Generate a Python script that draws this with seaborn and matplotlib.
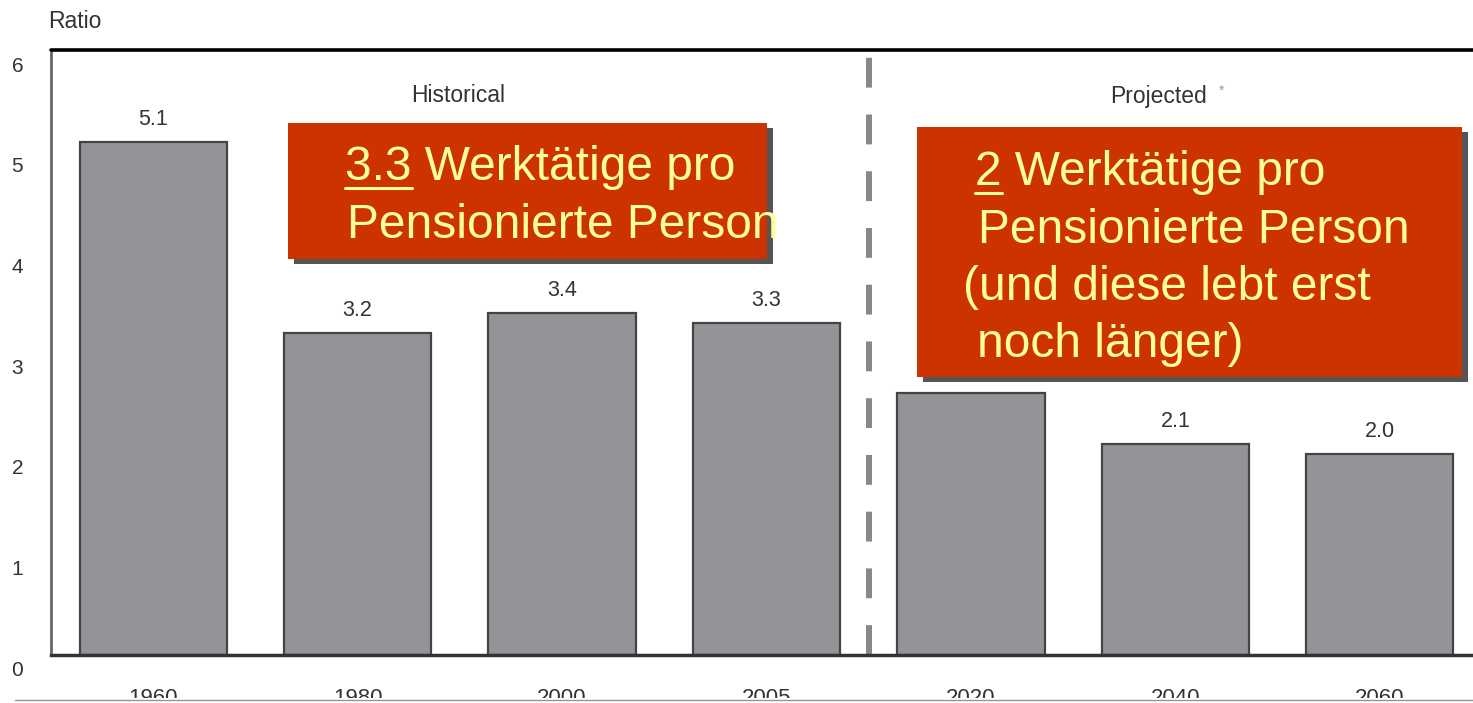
import matplotlib
matplotlib.use("Agg")
import matplotlib.pyplot as plt
import matplotlib.patches as mpatches
import matplotlib.lines as mlines
import matplotlib.transforms as mtransforms
import seaborn as sns
import pandas as pd

# ==========================================
# Data
# ==========================================

years = ["1960", "1980", "2000", "2005", "2020", "2040", "2060"]
ratios = [5.1, 3.2, 3.4, 3.3, 2.6, 2.1, 2.0]
value_labels = ["5.1", "3.2", "3.4", "3.3", "2.6", "2.1", "2.0"]
y_ticks = [0, 1, 2, 3, 4, 5, 6]

box1_lines = ["3.3 Werktätige pro", "Pensionierte Person"]
box2_lines = ["2 Werktätige pro", "Pensionierte Person",
              "(und diese lebt erst", "noch länger)"]

df = pd.DataFrame({"year": years, "ratio": ratios})

# ==========================================
# Figure setup
# ==========================================

W, H = 1473, 703
sns.set_style("white")
plt.rcParams["font.family"] = ["Liberation Sans", "DejaVu Sans"]

fig = plt.figure(figsize=(W / 100, H / 100), dpi=100)


def fx(px):
    return px / W


def fy(py):
    return 1 - py / H


ax = fig.add_axes([fx(51), fy(655), fx(1482) - fx(51), fy(51) - fy(655)])

sns.barplot(data=df, x="year", y="ratio", color="#939498", width=0.72,
            edgecolor="#444444", linewidth=1.6, saturation=1, ax=ax)

ax.set_xlim(-0.5, 6.5)
ax.set_ylim(0, 6)
ax.set_xlabel("")
ax.set_ylabel("")

# value labels above bars
for i, (v, lab) in enumerate(zip(ratios, value_labels)):
    ax.text(i, v + 0.12, lab, ha="center", va="bottom", fontsize=15.5,
            color="#333333")

# spines
for s in ["top", "right"]:
    ax.spines[s].set_visible(False)
ax.spines["left"].set_color("#666666")
ax.spines["left"].set_linewidth(2)
ax.spines["bottom"].set_color("#333333")
ax.spines["bottom"].set_linewidth(2.5)

# thick top rule
fig.add_artist(mlines.Line2D([fx(51), 1], [fy(50), fy(50)], color="black",
                             linewidth=2.6))

# y ticks inside, labels shifted a little down
ax.set_yticks(y_ticks)
ax.tick_params(axis="y", direction="in", length=16, width=3, color="#808080",
               labelsize=15, labelcolor="#333333", pad=20)
offset = mtransforms.ScaledTranslation(0, -4 / 72, fig.dpi_scale_trans)
for lab in ax.get_yticklabels():
    lab.set_verticalalignment("top")
    lab.set_transform(lab.get_transform() + offset)

ax.tick_params(axis="x", length=0, labelsize=16, labelcolor="#333333", pad=24)
for lab in ax.get_xticklabels():
    lab.set_verticalalignment("top")

# Historical / Projected divider
ax.axvline(3.5, color="#888888", linewidth=4.3, linestyle=(0, (5, 4.5)))

fig.text(fx(458), fy(96), "Historical", ha="center", va="center",
         fontsize=16.5, color="#333333")
fig.text(fx(1158), fy(96), "Projected", ha="center", va="center",
         fontsize=16.5, color="#333333")
fig.text(fx(1222), fy(91), "*", ha="center", va="center",
         fontsize=10, color="#999999")

fig.text(fx(48), fy(22), "Ratio", ha="left", va="center",
         fontsize=16.5, color="#333333")


# ==========================================
# Red callout boxes
# ==========================================

def callout(x0, y0, x1, y1):
    sh = mpatches.Rectangle((fx(x0 + 6), fy(y1 + 5)), fx(x1 - x0), fy(y0) - fy(y1),
                            transform=fig.transFigure, facecolor="#555555",
                            edgecolor="none", zorder=5)
    box = mpatches.Rectangle((fx(x0), fy(y1)), fx(x1 - x0), fy(y0) - fy(y1),
                             transform=fig.transFigure, facecolor="#CC3300",
                             edgecolor="none", zorder=6)
    fig.add_artist(sh)
    fig.add_artist(box)


callout(288, 123, 767, 259)
callout(917, 127, 1462, 377)

txt_kw = dict(fontsize=34.5, color="#FFFF99", ha="left", va="baseline", zorder=7)

fig.text(fx(345), fy(180), box1_lines[0], **txt_kw)
fig.text(fx(347), fy(238), box1_lines[1], **txt_kw)

box2_x = [975, 978, 963, 977]
box2_y = [185, 243, 300, 357]
for x, y, line in zip(box2_x, box2_y, box2_lines):
    fig.text(fx(x), fy(y), line, **txt_kw)

# underline the leading numbers
fig.canvas.draw()
renderer = fig.canvas.get_renderer()
for x, y, num in [(345, 180, "3.3"), (975, 185, "2")]:
    t = fig.text(fx(x), fy(y), num, **txt_kw)
    w = t.get_window_extent(renderer).width
    t.remove()
    fig.add_artist(mlines.Line2D([fx(x), fx(x + w)], [fy(y + 8), fy(y + 8)],
                                 color="#FFFF99", linewidth=2.2, zorder=8))

# bottom strip cutting the year labels
fig.add_artist(mpatches.Rectangle((0, 0), 1, fy(698), transform=fig.transFigure,
                                  facecolor="white", edgecolor="none", zorder=9))
fig.add_artist(mlines.Line2D([fx(15), 1], [fy(700), fy(700)], color="#8899AA",
                             linewidth=1, zorder=10))

fig.savefig("out.png", dpi=100)
